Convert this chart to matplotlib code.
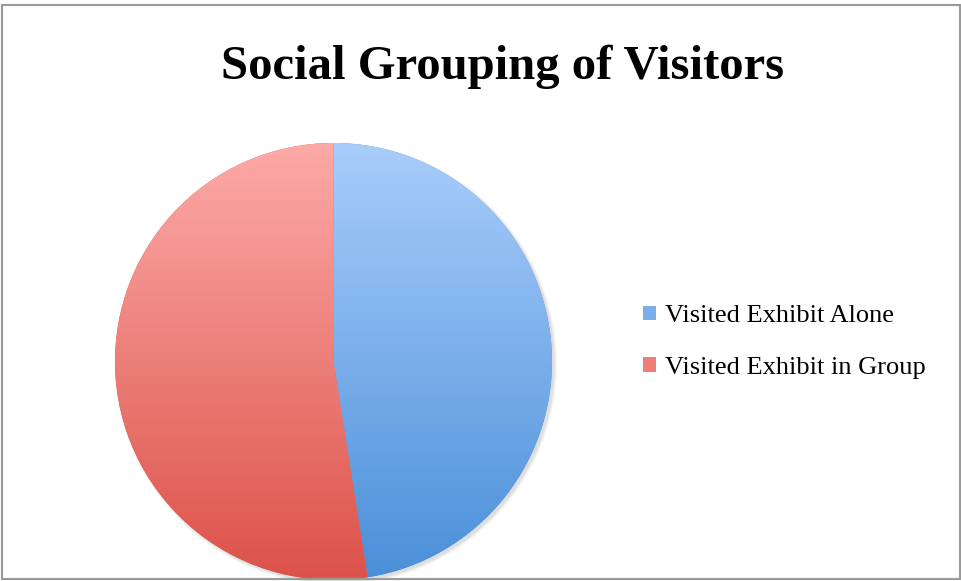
import numpy as np
import matplotlib.pyplot as plt
from matplotlib.patches import Rectangle, Circle, Patch
from matplotlib.colors import LinearSegmentedColormap

# Visitor counts by social grouping
labels = ["Visited Exhibit Alone", "Visited Exhibit in Group"]
values = [19, 21]
title = "Social Grouping of Visitors"

# top / bottom colours of each slice's vertical gradient
grad_top = ["#a9cdfb", "#fdaaa8"]
grad_bottom = ["#4a8fd8", "#dc5249"]

W, H = 961, 581
fig = plt.figure(figsize=(W / 100, H / 100), dpi=100)
ax = fig.add_axes([0, 0, 1, 1])

cx, cy, r = 333.5, H - 361.5, 218.5

# soft drop shadow under the pie
for k, a in enumerate(np.linspace(0.05, 0.012, 6)):
    ax.add_patch(Circle((cx + 2.5, cy - 2.5), r + 0.6 * k, color="#505050",
                        alpha=a, lw=0, zorder=1))

wedges, _ = ax.pie(values, colors=[grad_bottom[0], grad_bottom[1]],
                   startangle=90, counterclock=False, center=(cx, cy),
                   radius=r, frame=True,
                   wedgeprops=dict(linewidth=0, zorder=2))

# vertical gradient fill clipped to each wedge
grad = np.linspace(0, 1, 256).reshape(-1, 1)
for w, t, b in zip(wedges, grad_top, grad_bottom):
    cmap = LinearSegmentedColormap.from_list("g", [b, t])
    im = ax.imshow(grad, cmap=cmap, origin="lower", aspect="auto",
                   extent=(cx - r, cx + r, cy - r, cy + r), zorder=3,
                   interpolation="bilinear")
    im.set_clip_path(w)

ax.set_xlim(0, W)
ax.set_ylim(0, H)
ax.set_aspect("equal")
ax.axis("off")

ax.text(503, H - 67, title, ha="center", va="center",
        fontfamily="Liberation Serif", fontweight="bold", fontsize=35)

mid = [LinearSegmentedColormap.from_list("m", [b, t])(0.5)
       for t, b in zip(grad_top, grad_bottom)]
handles = [Patch(facecolor=c, edgecolor="none") for c in mid]
leg = ax.legend(handles, labels, loc="center left",
                bbox_to_anchor=(619.5 / W, 1 - 342 / H),
                frameon=False, prop=dict(family="Liberation Serif", size=19),
                handlelength=0.47, handleheight=0.47, handletextpad=0.35,
                labelspacing=1.12)

# outer chart border
ax.add_patch(Rectangle((1.5, 2.0), W - 2.5, H - 6.5, fill=False,
                       edgecolor="#9a9a9a", lw=1.5, zorder=10))

fig.savefig("out.png", dpi=100)
